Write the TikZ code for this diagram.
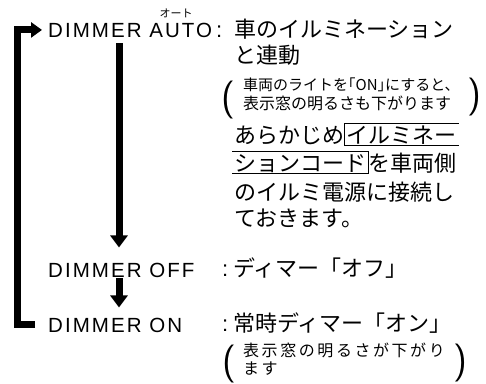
\documentclass[tikz,border=0pt]{standalone}
\usepackage{fontspec}
\usepackage{tikz}
\usetikzlibrary{arrows.meta,positioning,calc}
\newfontfamily\jpfont{Noto Sans CJK JP}
\newfontfamily\jpwidefont[LetterSpace=16]{Noto Sans CJK JP}
\newfontfamily\latinfont[LetterSpace=10]{Liberation Sans}

\tikzset{
  txt/.style={inner sep=0pt,anchor=base west},
  modename/.style={txt,font=\latinfont\fontsize{20.5}{24}\selectfont},
  colon/.style={txt,font=\latinfont\fontsize{22}{26}\selectfont},
  desc/.style={txt,font=\jpfont\fontsize{22}{28}\selectfont},
  boxed/.style={desc,inner xsep=2pt,text height=19.4pt,text depth=2.6pt},
  note/.style={txt,font=\jpfont\fontsize{16}{18}\selectfont},
  widenote/.style={txt,font=\jpwidefont\fontsize{16}{18}\selectfont},
  ruby/.style={inner sep=0pt,anchor=base,font=\jpfont\fontsize{11}{12}\selectfont},
  paren/.style={inner sep=0pt,font=\sffamily\fontsize{38}{40}\selectfont},
  flowarrow/.style={line width=7pt,-{Triangle[length=12pt,width=17pt]}},
  loopline/.style={line width=7pt,line join=miter,-{Triangle[length=11pt,width=15pt]}},
  frameline/.style={line width=0.9pt}
}

\begin{document}
\begin{tikzpicture}[x=1pt,y=-1pt]
\useasboundingbox (0,0) rectangle (486,383);

% DIMMER AUTO
\node[modename] (auto) at (48,37) {DIMMER AUTO};
\node[ruby] (autoruby) at (176,17) {オート};
\node[colon] (autocolon) at (216,37) {:};
\node[desc] (auto1) at (234,37) {車のイルミネーション};
\node[desc] (auto2) at (234,63) {と連動};
\node[paren] (autolp) at (228,100) {(};
\node[paren] (autorp) at (474,97) {)};
\node[note,font=\jpfont\fontsize{15}{18}\selectfont] (autonote1) at (243,90) {車両のライトを｢ON｣にすると、};
\node[note] (autonote2) at (243,109) {表示窓の明るさも下がります};

\node[desc] (pre1a) at (234,143) {あらかじめ};
\node[boxed,anchor=base west] (pre1b) at (pre1a.base east) {イルミネー};
\node[boxed] (pre2a) at (232,171) {ションコード};
\node[desc,anchor=base west] (pre2b) at (pre2a.base east) {を車両側};
\node[desc] (pre3) at (234,200) {のイルミ電源に接続し};
\node[desc] (pre4) at (234,226) {ておきます。};
\draw[frameline] (pre1b.north east) -- (pre1b.north west) -- (pre1b.south west) -- (pre1b.south east);
\draw[frameline] (pre2a.north west) -- (pre2a.north east) -- (pre2a.south east) -- (pre2a.south west);

% DIMMER OFF
\node[modename] (off) at (48,277) {DIMMER OFF};
\node[colon] (offcolon) at (222,276) {:};
\node[desc] (offdesc) at (233,276) {ディマー「オフ」};

% DIMMER ON
\node[modename] (on) at (48,332) {DIMMER ON};
\node[colon] (oncolon) at (222,331) {:};
\node[desc] (ondesc) at (233,331) {常時ディマー「オン」};
\node[paren] (onlp) at (229,364) {(};
\node[paren] (onrp) at (460,363) {)};
\node[widenote] (onnote1) at (243,356) {表示窓の明るさが下がり};
\node[widenote] (onnote2) at (243,374) {ます};

% connectors
\coordinate (spine) at (119,0);
\draw[flowarrow,shorten <=6pt,shorten >=15pt] (auto.south -| spine) -- (off.north -| spine);
\draw[flowarrow,shorten <=1pt,shorten >=10pt] (off.south -| spine) -- (on.north -| spine);
\draw[loopline] ([xshift=-13pt]on.west) -| ([xshift=-31pt]auto.west) -- ([xshift=-6pt]auto.west);
\end{tikzpicture}
\end{document}
